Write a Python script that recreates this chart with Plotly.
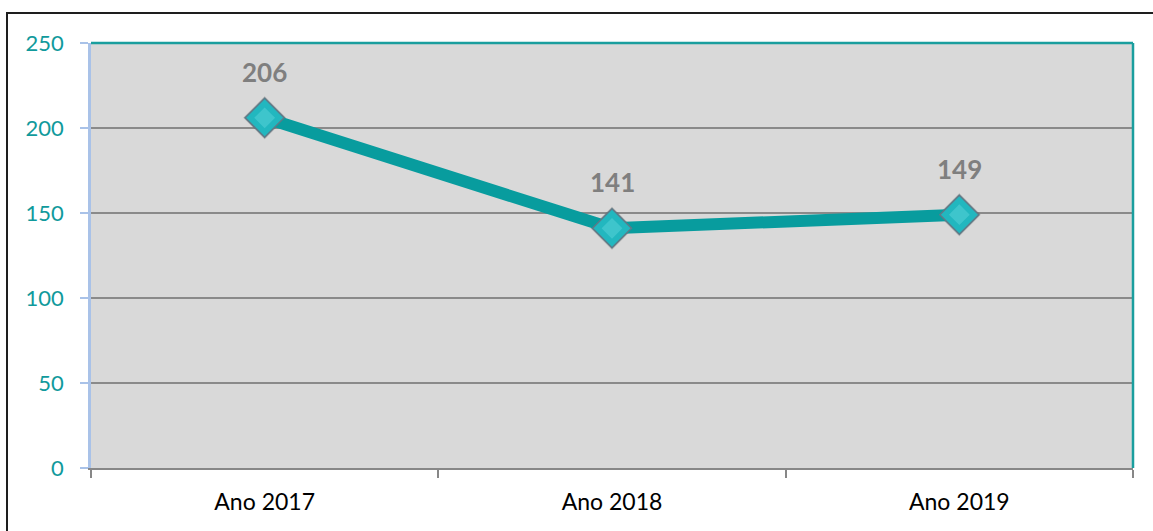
import plotly.graph_objects as go

# Annual totals
years = ["Ano 2017", "Ano 2018", "Ano 2019"]
totals = [206, 141, 149]
y_ticks = [0, 50, 100, 150, 200, 250]

TEAL_LINE = "#089c9e"
TEAL_MARK = "#22b7bf"
TEAL_TEXT = "#109a9c"
FONT = "Lato, Carlito, sans-serif"

fig = go.Figure()

# soft shadow under the diamonds
fig.add_trace(go.Scatter(
    x=years, y=totals, mode="markers",
    marker=dict(symbol="diamond", size=33, color="rgba(80,80,80,0.30)",
                line=dict(width=0)),
    hoverinfo="skip", showlegend=False,
))

fig.add_trace(go.Scatter(
    x=years, y=totals, mode="lines+markers",
    line=dict(color=TEAL_LINE, width=12),
    marker=dict(symbol="diamond", size=30, color=TEAL_MARK,
                line=dict(color="#5d7a88", width=1.5)),
    showlegend=False,
))

# lighter inner facet for a bevelled look
fig.add_trace(go.Scatter(
    x=years, y=totals, mode="markers",
    marker=dict(symbol="diamond", size=16, color="rgba(70,200,208,0.8)",
                line=dict(width=0)),
    hoverinfo="skip", showlegend=False,
))

for yr, v in zip(years, totals):
    fig.add_annotation(
        x=yr, y=v, text=f"<b>{v}</b>", showarrow=False, yshift=46,
        font=dict(family=FONT, size=26, color="#7f7f7f"),
    )

# teal frame on the top and right of the plotting area
fig.add_shape(type="line", xref="paper", yref="paper", x0=0, x1=1, y0=1, y1=1,
              line=dict(color="#1a9e9e", width=2.5))
fig.add_shape(type="line", xref="paper", yref="paper", x0=1, x1=1, y0=0, y1=1,
              line=dict(color="#1a9e9e", width=2.5))

# outer chart border
fig.add_shape(type="rect", xref="paper", yref="paper",
              x0=(7 - 91) / 1042, x1=1.2, y0=-0.3, y1=(468 - 13) / 425,
              line=dict(color="#1e1e1e", width=2), fillcolor="rgba(0,0,0,0)",
              layer="above")

fig.update_layout(
    width=1153, height=531,
    margin=dict(l=91, r=20, t=43, b=63),
    paper_bgcolor="white",
    plot_bgcolor="#d9d9d9",
    font=dict(family=FONT),
    xaxis=dict(
        type="category", range=[-0.5, 2.5],
        showline=True, linecolor="#878787", linewidth=2,
        ticks="outside", tickson="boundaries", ticklen=8, tickcolor="#878787",
        tickwidth=1.5, showgrid=False, ticklabelstandoff=12,
        tickfont=dict(family=FONT, size=23, color="#000000"),
    ),
    yaxis=dict(
        range=[0, 250], tickvals=y_ticks,
        showline=True, linecolor="#a9c2e8", linewidth=2.5,
        ticks="outside", ticklen=8, tickcolor="#a9c2e8", tickwidth=1.5,
        showgrid=True, gridcolor="#8a8a8a", gridwidth=1.5,
        zeroline=False, ticklabelstandoff=12,
        tickfont=dict(family=FONT, size=22, color=TEAL_TEXT),
    ),
)

fig.write_html("out.html")
